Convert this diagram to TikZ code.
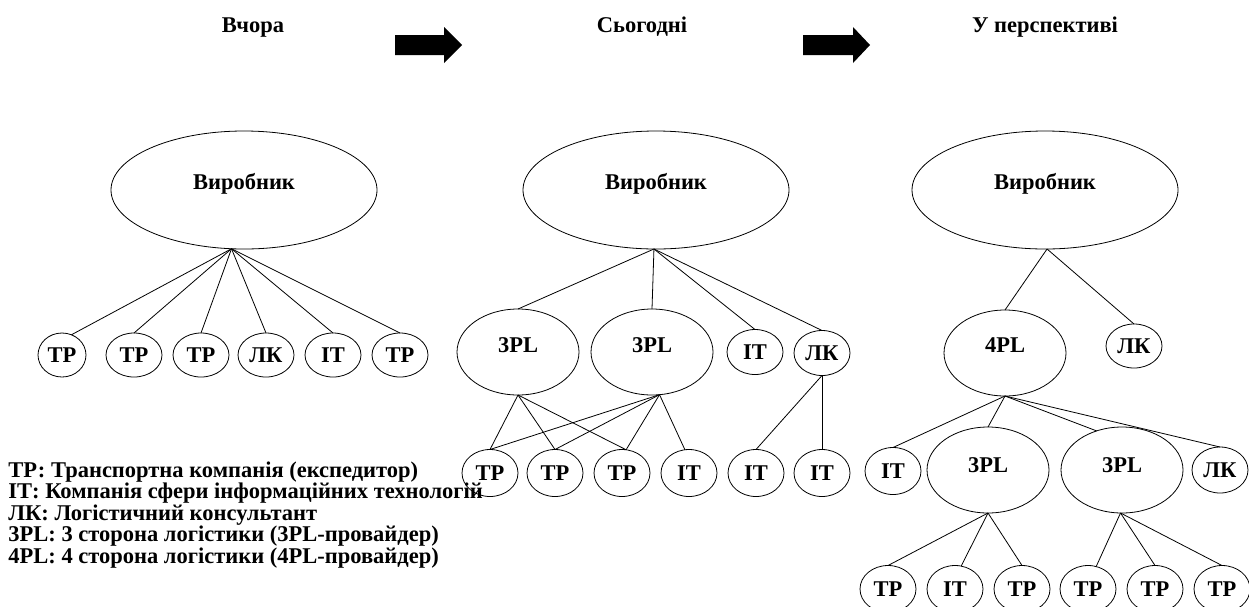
\documentclass[tikz,border=0pt]{standalone}
\usepackage{fontspec}
\setmainfont{Liberation Serif}
\usetikzlibrary{shapes.geometric}
\begin{document}
\begin{tikzpicture}[x=1pt,y=-1pt, line width=0.8pt,
  every node/.style={font=\fontsize{22.5}{22.5}\selectfont\bfseries},
  el/.style={ellipse, draw, inner sep=0pt, outer sep=0pt},
  big/.style={el, minimum width=266pt, minimum height=118pt, text depth=18pt},
  pl/.style={el, minimum width=122pt, minimum height=86pt, text depth=14pt},
  sm/.style={el, minimum width=56pt, minimum height=46pt},
  ttl/.style={anchor=base},
  leg/.style={anchor=base west, inner sep=0pt, align=left, font=\fontsize{22.5}{20}\selectfont\bfseries},
  arr/.style={fill=black}]
\useasboundingbox (0,0) rectangle (1249,606);

% titles and arrows
\node[ttl] (t1) at (253,32) {Вчора};
\node[ttl] (t2) at (642,32) {Сьогодні};
\node[ttl] (t3) at (1045,32) {У перспективі};
\fill[arr] (395,35) -- (444,35) -- (444,27) -- (462,45) -- (444,63) -- (444,55) -- (395,55) -- cycle;
\fill[arr] (803,35) -- (853,35) -- (853,27) -- (870,45) -- (853,63) -- (853,55) -- (803,55) -- cycle;

% left: yesterday
\node[big] (v1) at (244,190) {Виробник};
\node[sm, minimum width=48pt, minimum height=44pt] (c1) at (62,355) {ТР};
\node[sm, minimum height=44pt] (c2) at (134,355) {ТР};
\node[sm, minimum height=44pt] (c3) at (201,355) {ТР};
\node[sm, minimum height=44pt] (c4) at (266,355) {ЛК};
\node[sm, minimum height=44pt] (c5) at (333,355) {ІТ};
\node[sm, minimum height=44pt] (c6) at (400,355) {ТР};
\draw (v1.258) -- (c1.65);
\draw (v1.258) -- (c2.north);
\draw (v1.258) -- (c3.north);
\draw (v1.258) -- (c4.north);
\draw (v1.258) -- (c5.north);
\draw (v1.258) -- (c6.north);

% middle: today
\node[big] (v2) at (656,190) {Виробник};
\node[pl] (m1) at (518,352) {3PL};
\node[pl] (m2) at (652,352) {3PL};
\node[sm, minimum height=45pt] (mit) at (755,352) {ІТ};
\node[sm, minimum height=45pt] (mlk) at (822,353) {ЛК};
\node[sm, minimum height=47pt] (mb1) at (490,473) {ТР};
\node[sm, minimum height=47pt] (mb2) at (555,473) {ТР};
\node[sm, minimum height=47pt] (mb3) at (622,473) {ТР};
\node[sm, minimum height=47pt] (mb4) at (689,473) {ІТ};
\node[sm, minimum height=47pt] (mb5) at (756,473) {ІТ};
\node[sm, minimum height=47pt] (mb6) at (822,473) {ІТ};
\draw (v2.268) -- (m1.north);
\draw (v2.268) -- (m2.north);
\draw (v2.268) -- (mit.north);
\draw (v2.268) -- (mlk.north);
\draw (m1.south) -- (mb1.north);
\draw (m1.south) -- (mb2.north);
\draw (m1.south) -- (mb3.80);
\draw (m2.280) -- (mb1.north);
\draw (m2.280) -- (mb2.north);
\draw (m2.280) -- (mb3.80);
\draw (m2.280) -- (mb4.100);
\draw (mlk.south) -- (mb5.north);
\draw (mlk.south) -- (mb6.north);

% right: in perspective
\node[big] (v3) at (1045,190) {Виробник};
\node[pl, text depth=16pt] (r4) at (1005,353) {4PL};
\node[sm, minimum height=44pt] (rlk) at (1134,346) {ЛК};
\node[sm, minimum height=47pt] (rit) at (893,471) {ІТ};
\node[pl, text depth=10pt] (r3a) at (988,470) {3PL};
\node[pl, text depth=10pt] (r3b) at (1122,470) {3PL};
\node[sm, minimum height=46pt] (rlk2) at (1220,470) {ЛК};
\node[sm, minimum height=47pt] (rb1) at (888,589) {ТР};
\node[sm, minimum height=47pt] (rb2) at (955,589) {ІТ};
\node[sm, minimum height=47pt] (rb3) at (1022,589) {ТР};
\node[sm, minimum height=47pt] (rb4) at (1088,589) {ТР};
\node[sm, minimum height=47pt] (rb5) at (1155,589) {ТР};
\node[sm, minimum height=47pt] (rb6) at (1222,589) {ТР};
\draw (v3.272) -- (r4.north);
\draw (v3.272) -- (rlk.north);
\draw (r4.south) -- (rit.north);
\draw (r4.south) -- (r3a.north);
\draw (r4.south) -- (r3b.123);
\draw (r4.south) -- (rlk2.north);
\draw (r3a.south) -- (rb1.north);
\draw (r3a.south) -- (rb2.75);
\draw (r3a.south) -- (rb3.north);
\draw (r3b.268) -- (rb4.70);
\draw (r3b.268) -- (rb5.north);
\draw (r3b.268) -- (rb6.north);

% legend
\node[leg] (legend) at (8,563) {ТР: Транспортна компанія (експедитор)\\
ІТ: Компанія сфери інформаційних технологій\\
ЛК: Логістичний консультант\\
3PL: 3 сторона логістики (3PL-провайдер)\\
4PL: 4 сторона логістики (4PL-провайдер)};
\end{tikzpicture}
\end{document}
